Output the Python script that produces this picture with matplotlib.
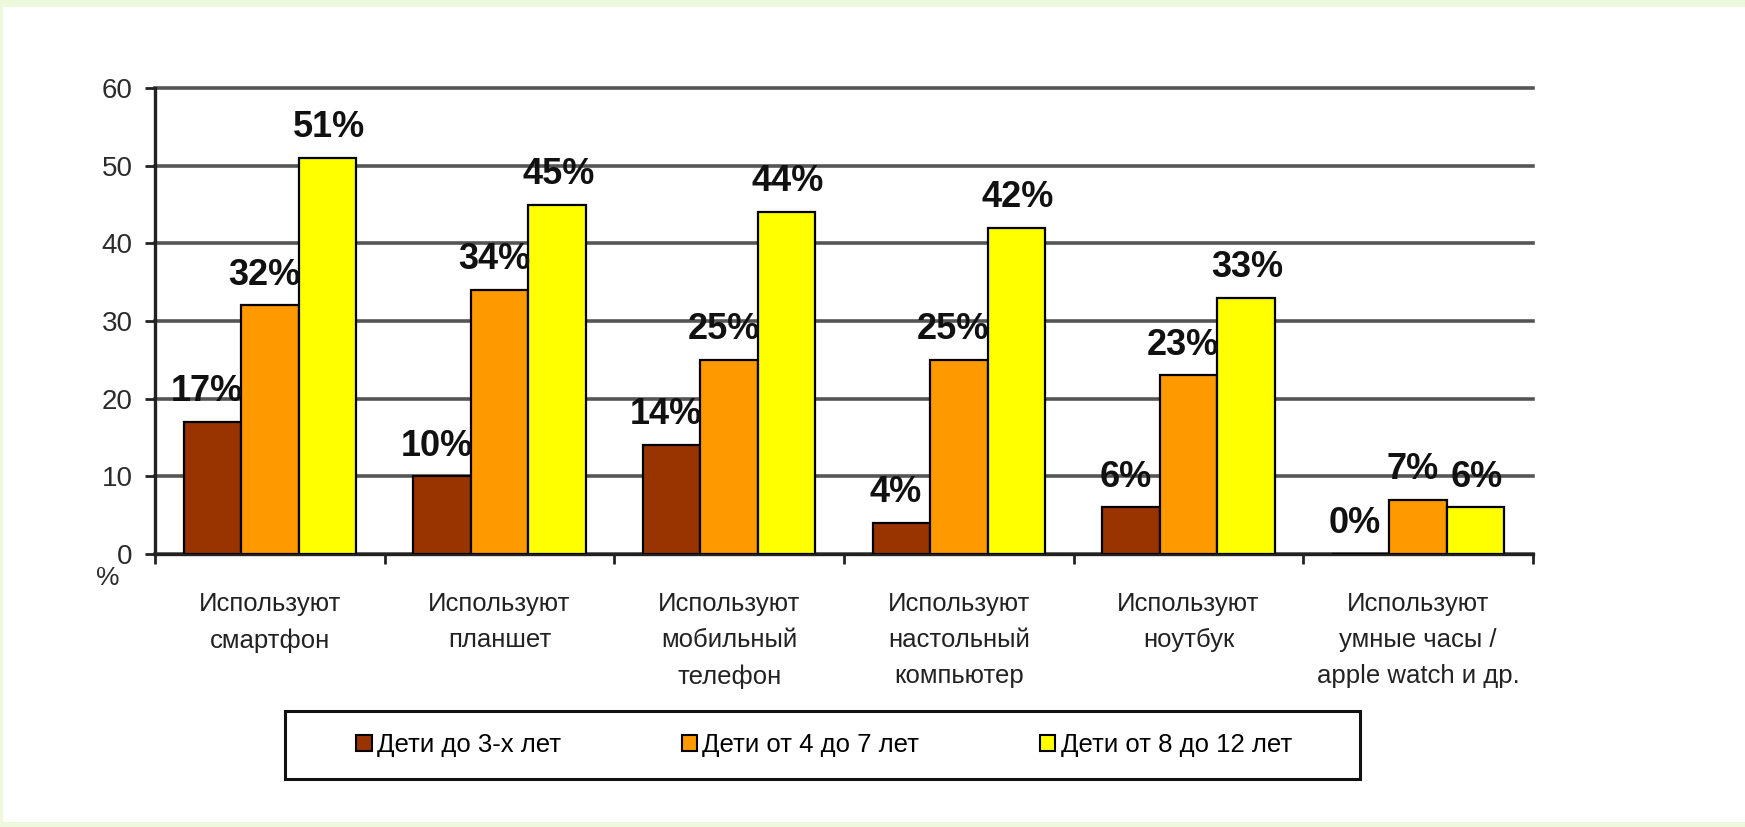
import numpy as np
import matplotlib
matplotlib.use("Agg")
import matplotlib.pyplot as plt
from matplotlib.patches import Patch, Rectangle

plt.rcParams['font.family'] = ['Liberation Sans', 'DejaVu Sans']

categories = ['Используют\nсмартфон', 'Используют\nпланшет', 'Используют\nмобильный\nтелефон',
              'Используют\nнастольный\nкомпьютер', 'Используют\nноутбук',
              'Используют\nумные часы /\napple watch и др.']
series_names = ['Дети до 3-х лет', 'Дети от 4 до 7 лет', 'Дети от 8 до 12 лет']
under_3 = [17, 10, 14, 4, 6, 0]
from_4_to_7 = [32, 34, 25, 25, 23, 7]
from_8_to_12 = [51, 45, 44, 42, 33, 6]
yticks = [0, 10, 20, 30, 40, 50, 60]

colors = ['#993300', '#FF9900', '#FFFF00']
label_dx = [-4, -4, 1]

fig = plt.figure(figsize=(17.45, 8.27), dpi=100)
fig.patch.set_facecolor('#eef8dc')
# white page area
fig.add_artist(Rectangle((3 / 1745, 5 / 827), 1 - 3 / 1745, 1 - 12 / 827,
                         transform=fig.transFigure, facecolor='white', edgecolor='none', zorder=0))

ax = fig.add_axes([155 / 1745, 273 / 827, 1378 / 1745, 466 / 827])
ax.set_facecolor('white')

ind = np.arange(len(categories))
width = 0.25
data = [under_3, from_4_to_7, from_8_to_12]
for k, vals in enumerate(data):
    x = ind + 0.5 + (k - 1) * width
    ax.bar(x, vals, width, color=colors[k], edgecolor='black', linewidth=1.6, zorder=3)
    for xi, v in zip(x, vals):
        ax.annotate(f'{v}%', (xi, v), xytext=(label_dx[k], 15), textcoords='offset points',
                    ha='center', va='baseline', fontsize=26, fontweight='bold', color='#111111', zorder=4)

ax.set_xlim(0, len(categories))
ax.set_ylim(0, 60)
ax.set_yticks(yticks)
ax.set_yticklabels([str(t) for t in yticks], fontsize=20, color='#2b2b2b')
ax.yaxis.grid(True, color='#555555', linewidth=2.6, zorder=1)
for gl in ax.get_ygridlines():
    gl.set_clip_on(False)
ax.set_axisbelow(True)

ax.set_xticks(np.arange(len(categories) + 1))
ax.set_xticklabels([])
ax.set_xticks(ind + 0.5, minor=True)
ax.set_xticklabels(categories, minor=True, fontsize=18.5, color='#222222', linespacing=1.65)
ax.tick_params(axis='x', which='minor', length=0, pad=27)
ax.tick_params(axis='x', which='major', direction='out', length=7, width=2, color='#222222')
ax.tick_params(axis='y', direction='out', length=7, width=2, color='#222222', pad=9)

for s in ['top', 'right']:
    ax.spines[s].set_visible(False)
ax.spines['left'].set_linewidth(2.4)
ax.spines['left'].set_color('#222222')
ax.spines['bottom'].set_linewidth(2.4)
ax.spines['bottom'].set_color('#222222')

fig.text(108 / 1745, 1 - 578 / 827, '%', ha='center', va='center', fontsize=19, color='#2b2b2b')

# legend box
fig.add_artist(Rectangle((285 / 1745, 48 / 827), 1075 / 1745, 68 / 827, transform=fig.transFigure,
                         facecolor='white', edgecolor='#111111', linewidth=2.2, zorder=1))
handles = [Patch(facecolor=c, edgecolor='black', linewidth=1.5) for c in colors]
fig.legend(handles, series_names, loc='center', bbox_to_anchor=(824 / 1745, 82 / 827), ncol=3,
           frameon=False, fontsize=18.5, handlelength=0.6, handleheight=0.6, handletextpad=0.2,
           columnspacing=4.7)

fig.savefig('out.png', dpi=100, facecolor=fig.get_facecolor())
